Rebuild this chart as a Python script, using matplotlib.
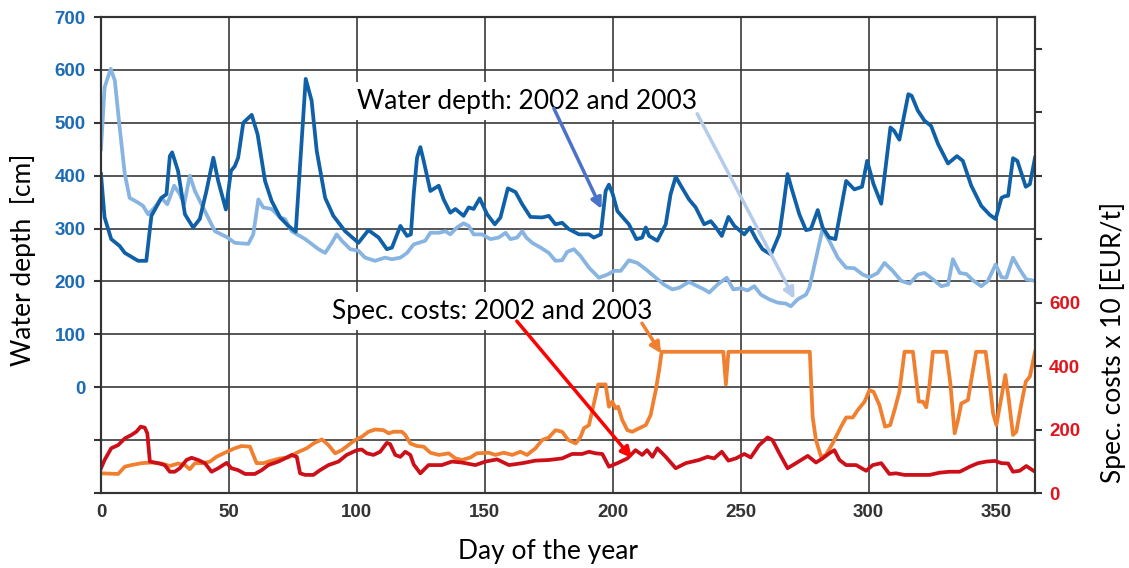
import matplotlib
matplotlib.use("Agg")
from matplotlib import pyplot as plt

# water depth, dark blue (left axis, cm)
depth_a_days = [0, 1.4, 4, 7.3, 9.3, 14.5, 17.7, 19.7, 23.6, 25.6, 26.9, 27.8, 30.1, 32.8, 36, 38.6,
                41.2, 43.9, 45.8, 48.8, 50.8, 52.3, 53.6, 55.6, 58.9, 61.2, 64.1, 66.7, 70, 73.2, 76.1,
                80, 82.3, 84.3, 87.6, 90.8, 95.4, 100.6, 104.5, 108.5, 111.7, 113.7, 117, 119.6, 121.1,
                122.2, 123.5, 124.8, 126.1, 128.7, 132, 133.9, 136.5, 138.5, 141.7, 143.7, 145.6, 148,
                150.9, 153.9, 156.1, 159, 162, 164.6, 167.8, 172.4, 175, 177.6, 180.2, 182.8, 186.8,
                190.7, 192.6, 195.3, 197.2, 198.5, 200, 201.8, 206.3, 209.2, 211.5, 212.9, 214.2, 217.4,
                220.7, 222.6, 224.6, 226.6, 229.8, 232.4, 235.7, 238.3, 240.3, 242.6, 245.2, 247.5,
                251.4, 253.6, 256, 258.5, 261.8, 265.1, 266.6, 268.3, 270, 272.9, 275.5, 277.4, 280.1,
                282, 284.6, 287, 291.2, 294.4, 297.4, 299.4, 301.9, 304.9, 308.5, 309.9, 312, 315.5,
                316.8, 319.2, 321.8, 324.4, 327.1, 331, 334.5, 336.8, 340.1, 344, 347.3, 349.6, 351.9,
                353.1, 354.5, 356.4, 358.1, 361.4, 363, 365]
depth_a = [403, 321, 280, 267, 254, 239, 239, 324, 358, 365, 437, 444, 409, 327, 302, 318,
           371, 434, 390, 336, 409, 418, 434, 500, 515, 478, 390, 352, 321, 305, 294,
           583, 542, 447, 358, 324, 295, 273, 297, 283, 261, 264, 305, 286, 289,
           365, 434, 454, 428, 371, 381, 355, 330, 337, 324, 340, 337, 357,
           327, 308, 321, 376, 369, 346, 322, 321, 324, 308, 311, 299, 289,
           289, 283, 289, 371, 383, 365, 333, 308, 280, 283, 302, 286, 277,
           308, 365, 398, 381, 355, 340, 308, 314, 302, 286, 322, 305,
           289, 302, 280, 261, 251, 289, 340, 403, 374, 327, 297, 299, 335,
           302, 283, 280, 390, 374, 379, 428, 384, 347, 491, 485, 468, 554,
           551, 523, 504, 494, 460, 423, 437, 428, 381, 343, 326, 318, 358,
           361, 362, 433, 428, 379, 384, 434]

# water depth, light blue (left axis, cm)
depth_b_days = [0, 1.4, 3.8, 5.4, 7.3, 9.3, 11.2, 14.5, 16.4, 18.4, 21, 23.6, 25.9, 28.6, 30.8, 32.5,
                34.7, 36.7, 40.6, 44.5, 49.1, 52.3, 57.6, 59.5, 61.5, 63.4, 66.7, 70, 71.9, 74.5, 79.8,
                85, 87.6, 90.2, 92.1, 94.1, 97.4, 100.6, 103.2, 107.1, 111, 113.7, 117, 119.6, 122.2,
                126.7, 128.7, 132, 134.6, 136.5, 139.1, 141.7, 143.7, 145.6, 148.9, 152.2, 155.4, 158.1,
                160, 162.6, 164.6, 166.2, 168.5, 171.8, 175, 177.6, 180.2, 182.2, 184.8, 187.4, 190.7,
                194.6, 197.9, 200.5, 203.1, 206.3, 209.6, 212.9, 216.8, 220, 223.3, 225.9, 229.8, 233.1,
                235.7, 237.7, 240.9, 244.5, 247.1, 250.1, 252.7, 255.3, 257.9, 261.2, 264.4, 267.7,
                269.6, 272.2, 275.5, 276.8, 279.2, 282, 284.6, 287.9, 291.2, 294.4, 297.7, 300.3, 303.5,
                306.2, 309.4, 312.7, 316, 319.2, 321.8, 325.1, 328.4, 331, 332.9, 335.6, 338.2, 340.8,
                344, 346.6, 349.6, 351.9, 353.8, 356.4, 359, 361.6, 365]
depth_b = [450, 567, 602, 580, 491, 403, 358, 349, 343, 327, 340, 358, 346, 381, 365, 346,
           400, 371, 333, 295, 284, 273, 271, 289, 355, 340, 337, 321, 318, 295, 280,
           261, 254, 273, 289, 277, 261, 258, 245, 239, 245, 242, 245, 254, 270,
           277, 292, 292, 295, 289, 302, 310, 305, 289, 289, 280, 283, 292,
           280, 283, 295, 283, 273, 264, 254, 239, 240, 256, 261, 248, 226,
           207, 213, 220, 220, 240, 235, 223, 207, 194, 185, 188, 199, 191,
           185, 179, 194, 207, 185, 187, 183, 191, 175, 166, 160, 158,
           153, 166, 175, 188, 239, 299, 277, 245, 226, 225, 213, 208, 216,
           235, 220, 201, 196, 213, 216, 204, 191, 194, 242, 216, 214, 202,
           191, 201, 232, 208, 207, 245, 223, 204, 201]

# specific costs x 10, red (right axis, EUR/t)
cost_a_days = [0, 1.4, 4, 6.7, 9.3, 11.9, 13.8, 15.5, 17.1, 18.1, 19.1, 22.3, 24.9, 26.9, 28.8, 30.8,
               33.4, 35.4, 38, 40.6, 43.2, 45.8, 49.1, 51, 53.6, 56.3, 60.1, 62.8, 65.4, 69.3, 71.9,
               74.5, 76.5, 77.8, 79.8, 83, 85.6, 88.9, 92.8, 96, 100, 101.9, 103.9, 106.5, 109.1,
               111.7, 113, 115, 117, 118.9, 120.9, 122.2, 124.8, 128, 133.2, 137.1, 141, 146.3, 150.2,
               154.8, 159.4, 164.6, 169.8, 175, 180.2, 184.1, 188, 190.7, 193.3, 195.9, 198.5, 201.8,
               205.7, 208.9, 211.5, 213.4, 215.5, 217.4, 220.7, 224.6, 228.5, 233.7, 237, 239.6, 242.6,
               245.2, 248.1, 251.4, 253.9, 257.2, 260.5, 262.4, 265.1, 268.3, 271.6, 276.2, 279.4, 282,
               284.6, 286.6, 288.6, 291.2, 295.1, 299, 301.6, 304.9, 308.1, 310.7, 314, 319.9, 323.8,
               327.7, 331.6, 335.6, 339.5, 342.7, 346, 349.3, 351.9, 354.5, 356.4, 359, 361.6, 365]
cost_a = [78, 104, 141, 151, 172, 183, 193, 209, 206, 188, 99, 94, 88, 67, 67, 78,
          104, 111, 104, 94, 67, 78, 95, 78, 72, 60, 60, 72, 88, 99, 109,
          120, 114, 62, 57, 57, 72, 88, 99, 120, 135, 137, 125, 120, 130,
          158, 154, 120, 114, 130, 120, 90, 62, 88, 88, 99, 96, 88, 99,
          106, 88, 94, 102, 104, 109, 123, 123, 130, 125, 123, 83, 94,
          109, 135, 120, 135, 114, 141, 114, 78, 94, 104, 114, 109, 130,
          102, 109, 123, 112, 151, 175, 167, 125, 78, 94, 117, 96, 109,
          125, 135, 104, 88, 88, 70, 88, 94, 60, 62, 57, 57, 57,
          64, 67, 67, 83, 94, 99, 101, 94, 93, 67, 70, 85, 67]

# specific costs x 10, orange (right axis, EUR/t)
cost_b_days = [0, 6.7, 9.3, 11.9, 15.8, 19.7, 23.6, 26.9, 30.1, 32.8, 34.7, 36.7, 39.9, 42.6, 45.1,
               48.4, 52.3, 54.9, 58.2, 60.8, 63.4, 66.7, 70, 73.2, 76.5, 80.4, 83, 86.3, 88.9, 91.5,
               94.1, 96.7, 99.3, 101.9, 104.5, 107.1, 110.4, 112.4, 114.3, 117.6, 118.9, 120.9, 123.5,
               126.1, 128.7, 132, 135.9, 138.5, 141.1, 144.4, 146.9, 151.5, 154.1, 157.4, 160.7, 163.9,
               166.5, 169.8, 172.4, 175, 177.6, 180.2, 182.6, 185.5, 187.4, 188.7, 190.7, 192.6, 194.3,
               197.2, 198.5, 199.8, 201.1, 202.1, 203.7, 205.7, 207.6, 210.3, 212.9, 214.8, 216.8,
               218.1, 219.1, 243.2, 244.2, 245.2, 277, 278.1, 279.4, 281.4, 283.3, 285.9, 289.2, 291.2,
               293.8, 295.7, 298.4, 300.3, 301.9, 304.2, 306.4, 308.4, 310.1, 312, 314, 317.3, 319.6,
               321.2, 322.5, 323.8, 325.1, 330.3, 331.9, 333.6, 334.9, 336.2, 338.8, 340.1, 342, 345.7,
               347.3, 348.6, 349.9, 351.9, 353.4, 354.7, 356.4, 357.7, 359.7, 361.4, 363, 365]
cost_b = [62, 60, 83, 88, 94, 96, 93, 85, 93, 88, 75, 94, 94, 99, 114,
          127, 141, 148, 146, 94, 94, 102, 109, 112, 127, 141, 156, 169, 151, 125,
          135, 151, 167, 177, 193, 200, 198, 188, 193, 193, 183, 156, 148,
          146, 127, 120, 125, 109, 104, 112, 125, 127, 120, 127, 120, 130,
          120, 141, 167, 175, 198, 193, 167, 156, 177, 204, 214, 282, 342,
          342, 272, 288, 267, 272, 230, 198, 193, 204, 214, 246, 324,
          387, 445, 445, 342, 445, 445, 240, 167, 114, 120, 156, 209, 238,
          238, 261, 288, 324, 319, 277, 209, 214, 261, 319, 445, 445, 288,
          288, 270, 342, 445, 445, 347, 188, 230, 282, 293, 356, 445, 445,
          347, 252, 214, 303, 372, 298, 183, 193, 282, 351, 367, 445]

depth_ticks = list(range(-200, 701, 100))
cost_ticks = list(range(0, 1401, 200))
day_ticks = list(range(0, 351, 50))

fig = plt.figure(figsize=(11.29, 5.68), dpi=100)
ax = fig.add_axes([101 / 1129, 1 - 493 / 568, 934 / 1129, 476 / 568])
ax2 = ax.twinx()

ax.plot(depth_b_days, depth_b, color='#87B4E1', lw=2.7, solid_joinstyle='round')
ax.plot(depth_a_days, depth_a, color='#1060A8', lw=2.7, solid_joinstyle='round')
ax2.plot(cost_b_days, cost_b, color='#F08030', lw=2.7, solid_joinstyle='round')
ax2.plot(cost_a_days, cost_a, color='#CD0F19', lw=2.7, solid_joinstyle='round')

ax.set_xlim(0, 365)
ax.set_ylim(-200, 700)
ax2.set_ylim(0, 1500)

ax.set_xticks(day_ticks)
ax.set_xticklabels([str(d) for d in day_ticks], fontfamily='Liberation Sans',
                   fontweight='bold', fontsize=13.5, color='#333333')
ax.set_yticks(depth_ticks)
ax.set_yticklabels([str(v) if v >= 0 else '' for v in depth_ticks], fontfamily='Liberation Sans',
                   fontweight='bold', fontsize=13.5, color='#1C6CB5')
ax2.set_yticks(cost_ticks)
ax2.set_yticklabels([str(v) if v <= 600 else '' for v in cost_ticks], fontfamily='Liberation Sans',
                    fontweight='bold', fontsize=13.5, color='#E0161E')

ax.tick_params(axis='x', length=0, pad=8)
ax.tick_params(axis='y', length=5, width=1.5, color='#333333', pad=6)
ax2.tick_params(axis='y', length=5, width=1.5, color='#333333', pad=5)

ax.grid(True, color='#3a3a3a', lw=1.2)
for a in (ax, ax2):
    for s in a.spines.values():
        s.set_color('#333333')
        s.set_linewidth(1.5)

fig.text(23 / 1129, 1 - 260 / 568, 'Water depth  [cm]', rotation=90, ha='center', va='center',
         fontfamily='Lato', fontsize=19)
fig.text(1113 / 1129, 1 - 342 / 568, 'Spec. costs x 10 [EUR/t]', rotation=90, ha='center',
         va='center', fontfamily='Lato', fontsize=19)
fig.text(548 / 1129, 1 - 551 / 568, 'Day of the year', ha='center', va='center',
         fontfamily='Lato', fontsize=19)

ax.text(166.4, 541, 'Water depth: 2002 and 2003', ha='center', va='center', fontfamily='Lato',
        fontsize=19, zorder=5, bbox=dict(facecolor='white', edgecolor='none', pad=5))
ax.text(153, 144, 'Spec. costs: 2002 and 2003', ha='center', va='center', fontfamily='Lato',
        fontsize=19, zorder=5, bbox=dict(facecolor='white', edgecolor='none', pad=5))

arrows = [((177, 527), (195.6, 337), '#4A72C8'),
          ((233, 517), (271, 167), '#B5CBEB'),
          ((162.5, 125), (207.5, -134), '#FF0000'),
          ((211.4, 121), (218.9, 64), '#F08030')]
for start, tip, col in arrows:
    ax2.annotate('', xy=tip, xytext=start, xycoords=ax.transData, textcoords=ax.transData,
                 arrowprops=dict(arrowstyle='-|>', color=col, lw=2.5, mutation_scale=16,
                                 shrinkA=0, shrinkB=0), zorder=6)

fig.savefig('out.png', dpi=100)
